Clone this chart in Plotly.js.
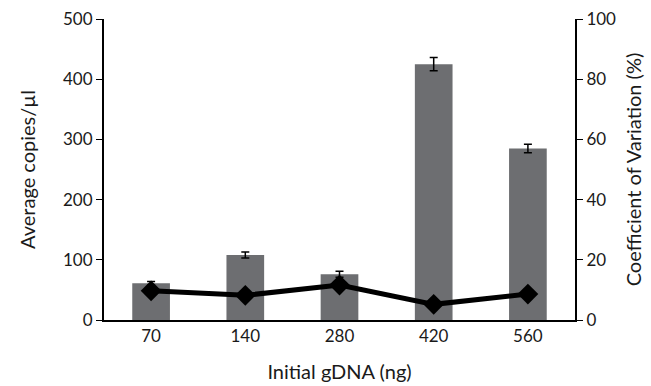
<!DOCTYPE html>
<html><head><meta charset="utf-8">
<script src="https://cdn.plot.ly/plotly-3.0.1.min.js"></script>
<style>html,body{margin:0;padding:0;background:#fff}#c{width:651px;height:386px}</style>
</head><body><div id="c"></div>
<script>
var categories = ["70", "140", "280", "420", "560"];
var avgCopies = [61, 108, 76, 425, 285];
var avgCopiesErr = [3, 5, 5, 11, 7];
var cvPercent = [9.7, 8.2, 11.6, 5.2, 8.6];

var font = "Lato, 'Open Sans', sans-serif";
var traces = [
  {type: "bar", x: categories, y: avgCopies, marker: {color: "#6d6e71"}, width: 0.4,
   error_y: {type: "data", array: avgCopiesErr, visible: true, color: "#000", thickness: 1.5, width: 4},
   yaxis: "y", showlegend: false},
  {type: "scatter", mode: "lines+markers", x: categories, y: cvPercent, yaxis: "y2",
   line: {color: "#000", width: 5}, marker: {symbol: "diamond", size: 16, color: "#000"}, showlegend: false}
];
var layout = {
  width: 651, height: 386,
  margin: {l: 104, r: 76, t: 19, b: 66},
  paper_bgcolor: "#fff", plot_bgcolor: "#fff",
  font: {family: font, size: 17, color: "#1a1a1a"},
  xaxis: {type: "category", showline: true, linecolor: "#000", linewidth: 2, ticks: "", showgrid: false,
          title: {text: "Initial gDNA (ng)", font: {size: 20}, standoff: 20}, tickfont: {size: 17}},
  yaxis: {range: [0, 500], dtick: 100, showline: true, linecolor: "#000", linewidth: 2, ticks: "outside",
          ticklen: 6, tickcolor: "#000", showgrid: false, zeroline: false,
          title: {text: "Average copies/µl", font: {size: 20}, standoff: 22}},
  yaxis2: {range: [0, 100], dtick: 20, overlaying: "y", side: "right", showline: true, linecolor: "#000",
           linewidth: 2, ticks: "outside", ticklen: 6, tickcolor: "#000", showgrid: false, zeroline: false,
           title: {text: "Coefficient of Variation (%)", font: {size: 20}, standoff: 12}}
};
Plotly.newPlot("c", traces, layout, {displayModeBar: false, staticPlot: true});
</script></body></html>
